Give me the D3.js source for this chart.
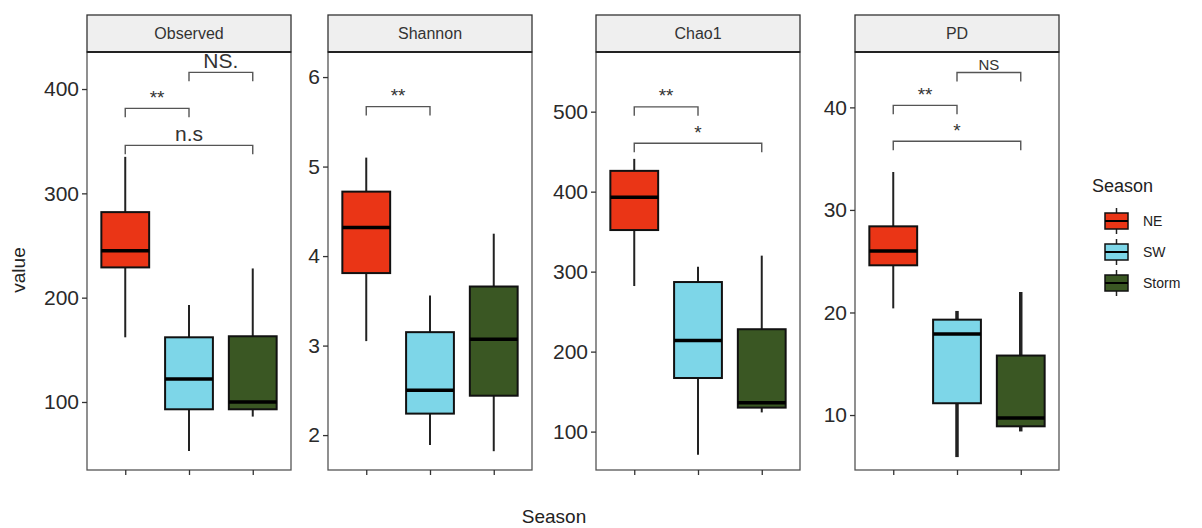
<!DOCTYPE html>
<html>
<head>
<meta charset="utf-8">
<script src="https://d3js.org/d3.v7.min.js"></script>
<style>
  body { margin: 0; background: #fff; }
  text { font-family: "Liberation Sans", Arial, sans-serif; }
</style>
</head>
<body>
<svg id="chart" width="1202" height="528"></svg>
<script>
// categories
const seasons = ["NE", "SW", "Storm"];
const metrics = ["Observed", "Shannon", "Chao1", "PD"];

// box stats per season: [low whisker, q1, median, q3, high whisker]
const observedStats = [[162, 229, 245, 282, 335], [53, 93, 122, 162, 193], [86, 93, 100, 163, 228]];
const shannonStats = [[3.05, 3.81, 4.32, 4.72, 5.10], [1.89, 2.24, 2.50, 3.15, 3.56], [1.82, 2.44, 3.07, 3.66, 4.25]];
const chao1Stats = [[282, 352, 393, 426, 441], [71, 167, 214, 287, 306], [124, 130, 136, 228, 320]];
const pdStats = [[20.4, 24.6, 26.0, 28.4, 33.7], [5.9, 11.15, 17.9, 19.3, 20.15], [8.4, 8.9, 9.7, 15.8, 22.0]];

// significance brackets: [from season, to season, y value, label]
const observedSig = [[0, 1, 381.5, "**"], [0, 2, 346, "n.s"], [1, 2, 416, "NS."]];
const shannonSig = [[0, 1, 5.67, "**"]];
const chao1Sig = [[0, 1, 506, "**"], [0, 2, 460.5, "*"]];
const pdSig = [[0, 1, 40.2, "**"], [0, 2, 36.7, "*"], [1, 2, 43.4, "NS"]];

// y axis domains and ticks
const observedDomain = [34.8, 435.5];
const shannonDomain = [1.61, 6.28];
const chao1Domain = [52, 574.6];
const pdDomain = [4.64, 45.4];
const observedTicks = [100, 200, 300, 400];
const shannonTicks = [2, 3, 4, 5, 6];
const chao1Ticks = [100, 200, 300, 400, 500];
const pdTicks = [10, 20, 30, 40];

const allStats = [observedStats, shannonStats, chao1Stats, pdStats];
const allSig = [observedSig, shannonSig, chao1Sig, pdSig];
const allDomains = [observedDomain, shannonDomain, chao1Domain, pdDomain];
const allTicks = [observedTicks, shannonTicks, chao1Ticks, pdTicks];

const colors = d3.scaleOrdinal().domain(seasons).range(["#EA3516", "#7DD6E8", "#3A5723"]);

const svg = d3.select("#chart");

// panel layout
const panelLeft = [87, 328, 596, 855];
const panelW = 204;
const stripTop = 15, plotTop = 52, plotBottom = 470;

metrics.forEach((m, pi) => {
    const x0 = panelLeft[pi];
    const g = svg.append("g");

    const x = d3.scalePoint().domain(seasons).range([x0, x0 + panelW]).padding(0.6);
    const y = d3.scaleLinear().domain(allDomains[pi]).range([plotBottom, plotTop]);
    const boxW = x.step() * 0.75;

    // panel border
    g.append("rect")
        .attr("x", x0).attr("y", plotTop)
        .attr("width", panelW).attr("height", plotBottom - plotTop)
        .attr("fill", "#fff")
        .attr("stroke", "#555")
        .attr("stroke-width", 1.3);

    // boxes
    allStats[pi].forEach((s, ci) => {
        const cx = x(seasons[ci]);
        const ww = (pi === 3 && ci > 0) ? 3.5 : 2;
        g.append("line")
            .attr("x1", cx).attr("x2", cx)
            .attr("y1", y(s[0])).attr("y2", y(s[1]))
            .attr("stroke", "#222").attr("stroke-width", ww);
        g.append("line")
            .attr("x1", cx).attr("x2", cx)
            .attr("y1", y(s[3])).attr("y2", y(s[4]))
            .attr("stroke", "#222").attr("stroke-width", ww);
        g.append("rect")
            .attr("x", cx - boxW / 2).attr("y", y(s[3]))
            .attr("width", boxW).attr("height", y(s[1]) - y(s[3]))
            .attr("fill", colors(seasons[ci]))
            .attr("stroke", "#111").attr("stroke-width", 2);
        g.append("line")
            .attr("x1", cx - boxW / 2).attr("x2", cx + boxW / 2)
            .attr("y1", y(s[2])).attr("y2", y(s[2]))
            .attr("stroke", "#000").attr("stroke-width", 3.5);
    });

    // significance brackets
    allSig[pi].forEach(b => {
        const xa = x(seasons[b[0]]), xb = x(seasons[b[1]]), yy = y(b[2]);
        g.append("path")
            .attr("d", `M${xa},${yy + 9}V${yy}H${xb}V${yy + 9}`)
            .attr("fill", "none")
            .attr("stroke", "#555").attr("stroke-width", 1.4);
        const small = (b[3] === "NS");
        const stars = b[3].startsWith("*");
        g.append("text")
            .attr("x", (xa + xb) / 2)
            .attr("y", yy - (small ? 2.5 : 4.5))
            .attr("text-anchor", "middle")
            .attr("font-size", small ? 15 : (stars ? 19 : 21))
            .attr("fill", "#333")
            .text(b[3]);
    });

    // y axis
    const ya = g.append("g")
        .attr("transform", `translate(${x0},0)`)
        .call(d3.axisLeft(y).tickValues(allTicks[pi]).tickFormat(d3.format("d")).tickSize(5).tickPadding(3));
    ya.select(".domain").remove();
    ya.selectAll(".tick line").attr("stroke", "#333").attr("stroke-width", 1.3);
    ya.selectAll(".tick text").attr("font-size", 21).attr("fill", "#2a2a2a")
        .attr("font-family", "Liberation Sans, Arial, sans-serif");

    // x axis (ticks only)
    const xa = g.append("g")
        .attr("transform", `translate(0,${plotBottom})`)
        .call(d3.axisBottom(x).tickSize(5).tickFormat(""));
    xa.select(".domain").remove();
    xa.selectAll(".tick line").attr("stroke", "#333").attr("stroke-width", 1.3);

    // strip
    g.append("rect")
        .attr("x", x0).attr("y", stripTop)
        .attr("width", panelW).attr("height", plotTop - stripTop)
        .attr("fill", "#EFEFEF")
        .attr("stroke", "#333").attr("stroke-width", 1.3);
    g.append("line")
        .attr("x1", x0).attr("x2", x0 + panelW)
        .attr("y1", plotTop).attr("y2", plotTop)
        .attr("stroke", "#222").attr("stroke-width", 2);
    g.append("text")
        .attr("x", x0 + panelW / 2).attr("y", (stripTop + plotTop) / 2 + 5.5)
        .attr("text-anchor", "middle")
        .attr("font-size", 16)
        .attr("fill", "#333")
        .text(m);
});

// axis titles
svg.append("text")
    .attr("transform", "translate(25,270) rotate(-90)")
    .attr("text-anchor", "middle")
    .attr("font-size", 19)
    .attr("fill", "#222")
    .text("value");

svg.append("text")
    .attr("x", 554).attr("y", 523)
    .attr("text-anchor", "middle")
    .attr("font-size", 19)
    .attr("fill", "#222")
    .text("Season");

// legend
const legend = svg.append("g").attr("transform", "translate(1092,0)");
legend.append("text")
    .attr("x", 0).attr("y", 192)
    .attr("font-size", 18)
    .attr("fill", "#222")
    .text("Season");

seasons.forEach((s, i) => {
    const cy = 221 + i * 31;
    const kx = 13, kw = 23;
    legend.append("line")
        .attr("x1", kx + kw / 2).attr("x2", kx + kw / 2)
        .attr("y1", cy - 13).attr("y2", cy + 13)
        .attr("stroke", "#222").attr("stroke-width", 1.5);
    legend.append("rect")
        .attr("x", kx).attr("y", cy - 8)
        .attr("width", kw).attr("height", 16)
        .attr("fill", colors(s))
        .attr("stroke", "#111").attr("stroke-width", 1.5);
    legend.append("line")
        .attr("x1", kx).attr("x2", kx + kw)
        .attr("y1", cy).attr("y2", cy)
        .attr("stroke", "#000").attr("stroke-width", 2);
    legend.append("text")
        .attr("x", 51).attr("y", cy + 5)
        .attr("font-size", 14)
        .attr("fill", "#222")
        .text(s);
});
</script>
</body>
</html>
